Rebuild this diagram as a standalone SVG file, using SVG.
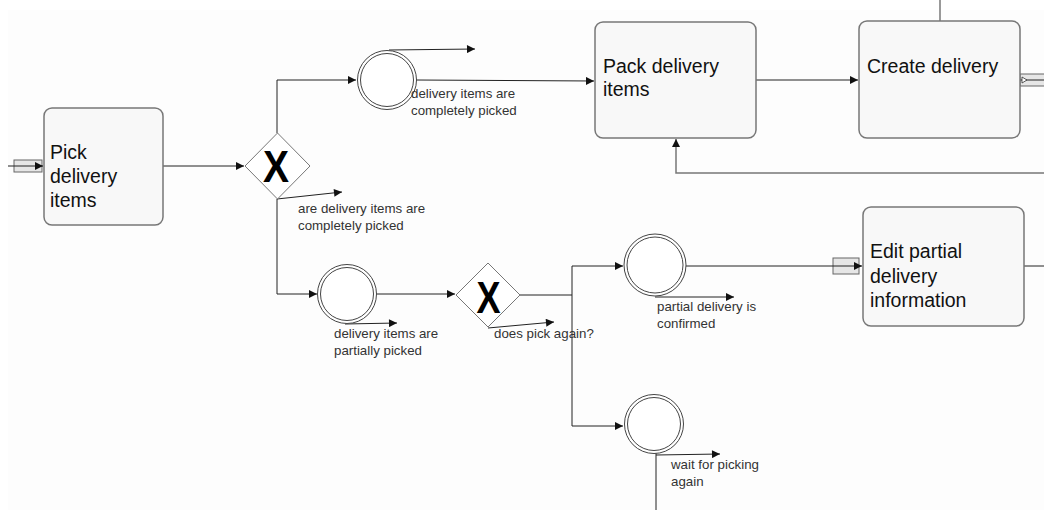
<svg xmlns="http://www.w3.org/2000/svg" width="1044" height="510" viewBox="0 0 1044 510">
<defs>
<marker id="ah" viewBox="0 0 10 10" refX="10" refY="5" markerWidth="10" markerHeight="8" markerUnits="userSpaceOnUse" orient="auto">
<path d="M0,0 L10,5 L0,10 z" fill="#111"/>
</marker>
</defs>
<style>
.task{fill:#f8f8f8;stroke:#777;stroke-width:1.5}
.tt{font-family:"Liberation Sans",Arial,sans-serif;font-size:19.5px;fill:#111}
.lbl{font-family:"Liberation Sans",Arial,sans-serif;font-size:13.3px;fill:#333}
.gw{fill:#fff;stroke:#777;stroke-width:1}
.gx{font-family:"Liberation Sans",Arial,sans-serif;font-size:45px;font-weight:bold;fill:#000;text-anchor:middle}
.ev{fill:#fff;stroke:#444;stroke-width:1}
.c{fill:none;stroke:#222;stroke-width:1}
.cg{fill:none;stroke:#777;stroke-width:1.5}
.dm{fill:#e6e6e6;stroke:#666;stroke-width:1}
</style>
<rect x="0" y="0" width="1044" height="510" fill="#fff"/>
<rect x="8" y="10" width="1036" height="500" fill="#fdfdfd"/>

<g id="in-pick">
<rect class="dm" x="14" y="160" width="28" height="12"/>
</g>
<g id="in-edit">
<rect class="dm" x="833" y="258" width="26" height="16"/>
</g>
<g id="out-create">
<rect class="dm" x="1020" y="74" width="26" height="12"/>
</g>

<g id="connectors">
<path class="c" d="M8,166 H43" marker-end="url(#ah)"/>
<path class="c" d="M163,166 H244" marker-end="url(#ah)"/>
<path class="c" d="M277,133 V80 H356" marker-end="url(#ah)"/>
<path class="c" d="M389,50 L475,49" marker-end="url(#ah)"/>
<path class="c" d="M416,80 L594,81" marker-end="url(#ah)"/>
<path class="c" d="M756,80 H858" marker-end="url(#ah)"/>
<path class="cg" d="M940,0 V21"/>
<path class="c" d="M1020,80 H1044"/>
<path d="M1022,77 L1027,80 L1022,83 z" fill="#fff" stroke="#333" stroke-width="0.8"/>
<path class="cg" d="M1044,173 H676 V139" marker-end="url(#ah)"/>
<path class="c" d="M277,199 L342,192" marker-end="url(#ah)"/>
<path class="c" d="M277,199 V294 H317" marker-end="url(#ah)"/>
<path class="c" d="M345,324 L397,323" marker-end="url(#ah)"/>
<path class="c" d="M377,294 H455" marker-end="url(#ah)"/>
<path class="c" d="M488,328 L554,322" marker-end="url(#ah)"/>
<path class="c" d="M520,295 H572"/>
<path class="c" d="M572,426 V266 H623" marker-end="url(#ah)"/>
<path class="c" d="M572,426 H623" marker-end="url(#ah)"/>
<path class="c" d="M655,297 L734,297" marker-end="url(#ah)"/>
<path class="c" d="M686,266 H862" marker-end="url(#ah)"/>
<path class="c" d="M1024,266 H1044"/>
<path class="c" d="M656,455 L720,454" marker-end="url(#ah)"/>
<path class="c" d="M656,453 V510"/>
</g>

<g id="task-pick">
<rect class="task" x="44" y="108" width="119" height="117" rx="8"/>
<text class="tt" x="50" y="159">Pick</text>
<text class="tt" x="50" y="183">delivery</text>
<text class="tt" x="50" y="207">items</text>
</g>

<g id="gw1">
<polygon class="gw" points="245,166 277.5,133 310,166 277.5,199"/>
<text class="gx" x="276" y="182" textLength="26" lengthAdjust="spacingAndGlyphs">X</text>
<text class="lbl" x="298" y="213">are delivery items are</text>
<text class="lbl" x="298" y="230">completely picked</text>
</g>

<g id="ev1">
<circle class="ev" cx="387" cy="80" r="29.5"/>
<circle class="ev" cx="387" cy="80" r="26.5"/>
<text class="lbl" x="411" y="98">delivery items are</text>
<text class="lbl" x="411" y="115">completely picked</text>
</g>

<g id="task-pack">
<rect class="task" x="595" y="22" width="161" height="116" rx="8"/>
<text class="tt" x="603" y="73">Pack delivery</text>
<text class="tt" x="603" y="96">items</text>
</g>

<g id="task-create">
<rect class="task" x="859" y="21" width="161" height="117" rx="8"/>
<text class="tt" x="867" y="73">Create delivery</text>
</g>

<g id="ev2">
<circle class="ev" cx="347" cy="294" r="29.5"/>
<circle class="ev" cx="347" cy="294" r="26.5"/>
<text class="lbl" x="334" y="338">delivery items are</text>
<text class="lbl" x="334" y="355">partially picked</text>
</g>

<g id="gw2">
<polygon class="gw" points="456,295 488,263 520,295 488,327"/>
<text class="gx" x="488.5" y="313" textLength="24" lengthAdjust="spacingAndGlyphs">X</text>
<text class="lbl" x="494" y="338">does pick again?</text>
</g>

<g id="ev3">
<circle class="ev" cx="655" cy="265" r="31"/>
<circle class="ev" cx="655" cy="265" r="28"/>
<text class="lbl" x="657" y="311">partial delivery is</text>
<text class="lbl" x="657" y="328">confirmed</text>
</g>

<g id="task-edit">
<rect class="task" x="863" y="207" width="161" height="119" rx="8"/>
<text class="tt" x="870" y="258">Edit partial</text>
<text class="tt" x="870" y="283">delivery</text>
<text class="tt" x="870" y="307">information</text>
</g>

<g id="ev4">
<circle class="ev" cx="654" cy="424" r="29.5"/>
<circle class="ev" cx="654" cy="424" r="26.5"/>
<text class="lbl" x="671" y="469">wait for picking</text>
<text class="lbl" x="671" y="486">again</text>
</g>
</svg>
